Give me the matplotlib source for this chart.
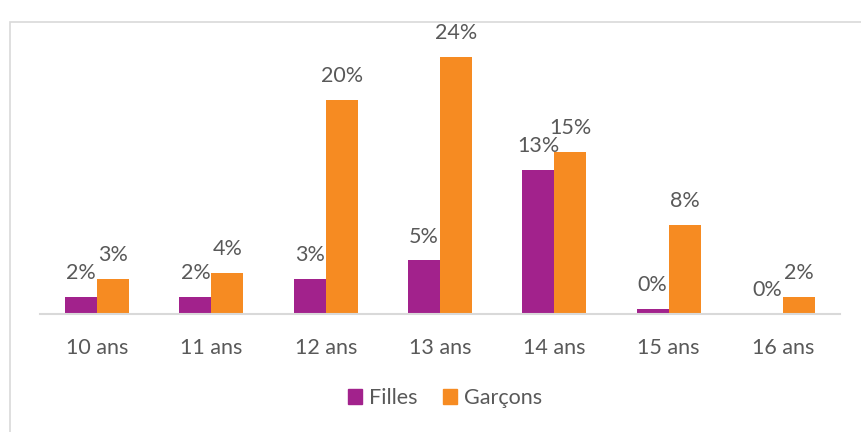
import matplotlib
matplotlib.use("Agg")
import matplotlib.pyplot as plt
import matplotlib.patches as mpatches
import numpy as np

plt.rcParams['font.family'] = ['Lato', 'DejaVu Sans']

categories = ['10 ans', '11 ans', '12 ans', '13 ans', '14 ans', '15 ans', '16 ans']
filles = [1.6, 1.6, 3.3, 5.0, 13.4, 0.45, 0.0]
garcons = [3.3, 3.8, 20.0, 24.0, 15.1, 8.3, 1.6]
filles_labels = ['2%', '2%', '3%', '5%', '13%', '0%', '0%']
garcons_labels = ['3%', '4%', '20%', '24%', '15%', '8%', '2%']

purple = '#A2228C'
orange = '#F68B22'
grey_text = '#595959'

W, H = 861, 432
fig = plt.figure(figsize=(W / 100, H / 100), dpi=100)

# outer chart frame
fig.patches.append(mpatches.Rectangle((10 / W, -0.1), 1.2, (H - 22) / H + 0.1,
                                      transform=fig.transFigure, fill=False,
                                      edgecolor='#D9D9D9', linewidth=1.2))

ax = fig.add_axes([40 / W, (H - 314) / H, 800 / W, 289 / H])
x = np.arange(len(categories))
w = 0.28
b1 = ax.bar(x - w / 2, filles, w, color=purple)
b2 = ax.bar(x + w / 2, garcons, w, color=orange)

for bars, labels in ((b1, filles_labels), (b2, garcons_labels)):
    for bar, lab in zip(bars, labels):
        ax.annotate(lab, (bar.get_x() + bar.get_width() / 2, bar.get_height()),
                    xytext=(0, 10), textcoords='offset points',
                    ha='center', va='bottom', fontsize=15.5, color=grey_text)

ax.set_xlim(-0.5, len(categories) - 0.5)
ax.set_ylim(0, 26.96)
ax.set_xticks(x)
ax.set_xticklabels(categories, fontsize=15.5, color=grey_text)
ax.tick_params(axis='x', length=0, pad=17)
ax.set_yticks([])
for s in ['top', 'right', 'left']:
    ax.spines[s].set_visible(False)
ax.spines['bottom'].set_color('#D9D9D9')
ax.spines['bottom'].set_linewidth(1.5)

handles = [mpatches.Patch(color=purple, label='Filles'),
           mpatches.Patch(color=orange, label='Garçons')]
leg = fig.legend(handles=handles, loc='center', bbox_to_anchor=(445 / W, 1 - 398 / H),
                 ncol=2, frameon=False, fontsize=15.5, handlelength=0.65, handleheight=0.65,
                 handletextpad=0.3, columnspacing=1.2)
for t in leg.get_texts():
    t.set_color(grey_text)

fig.savefig('out.png', dpi=100)
